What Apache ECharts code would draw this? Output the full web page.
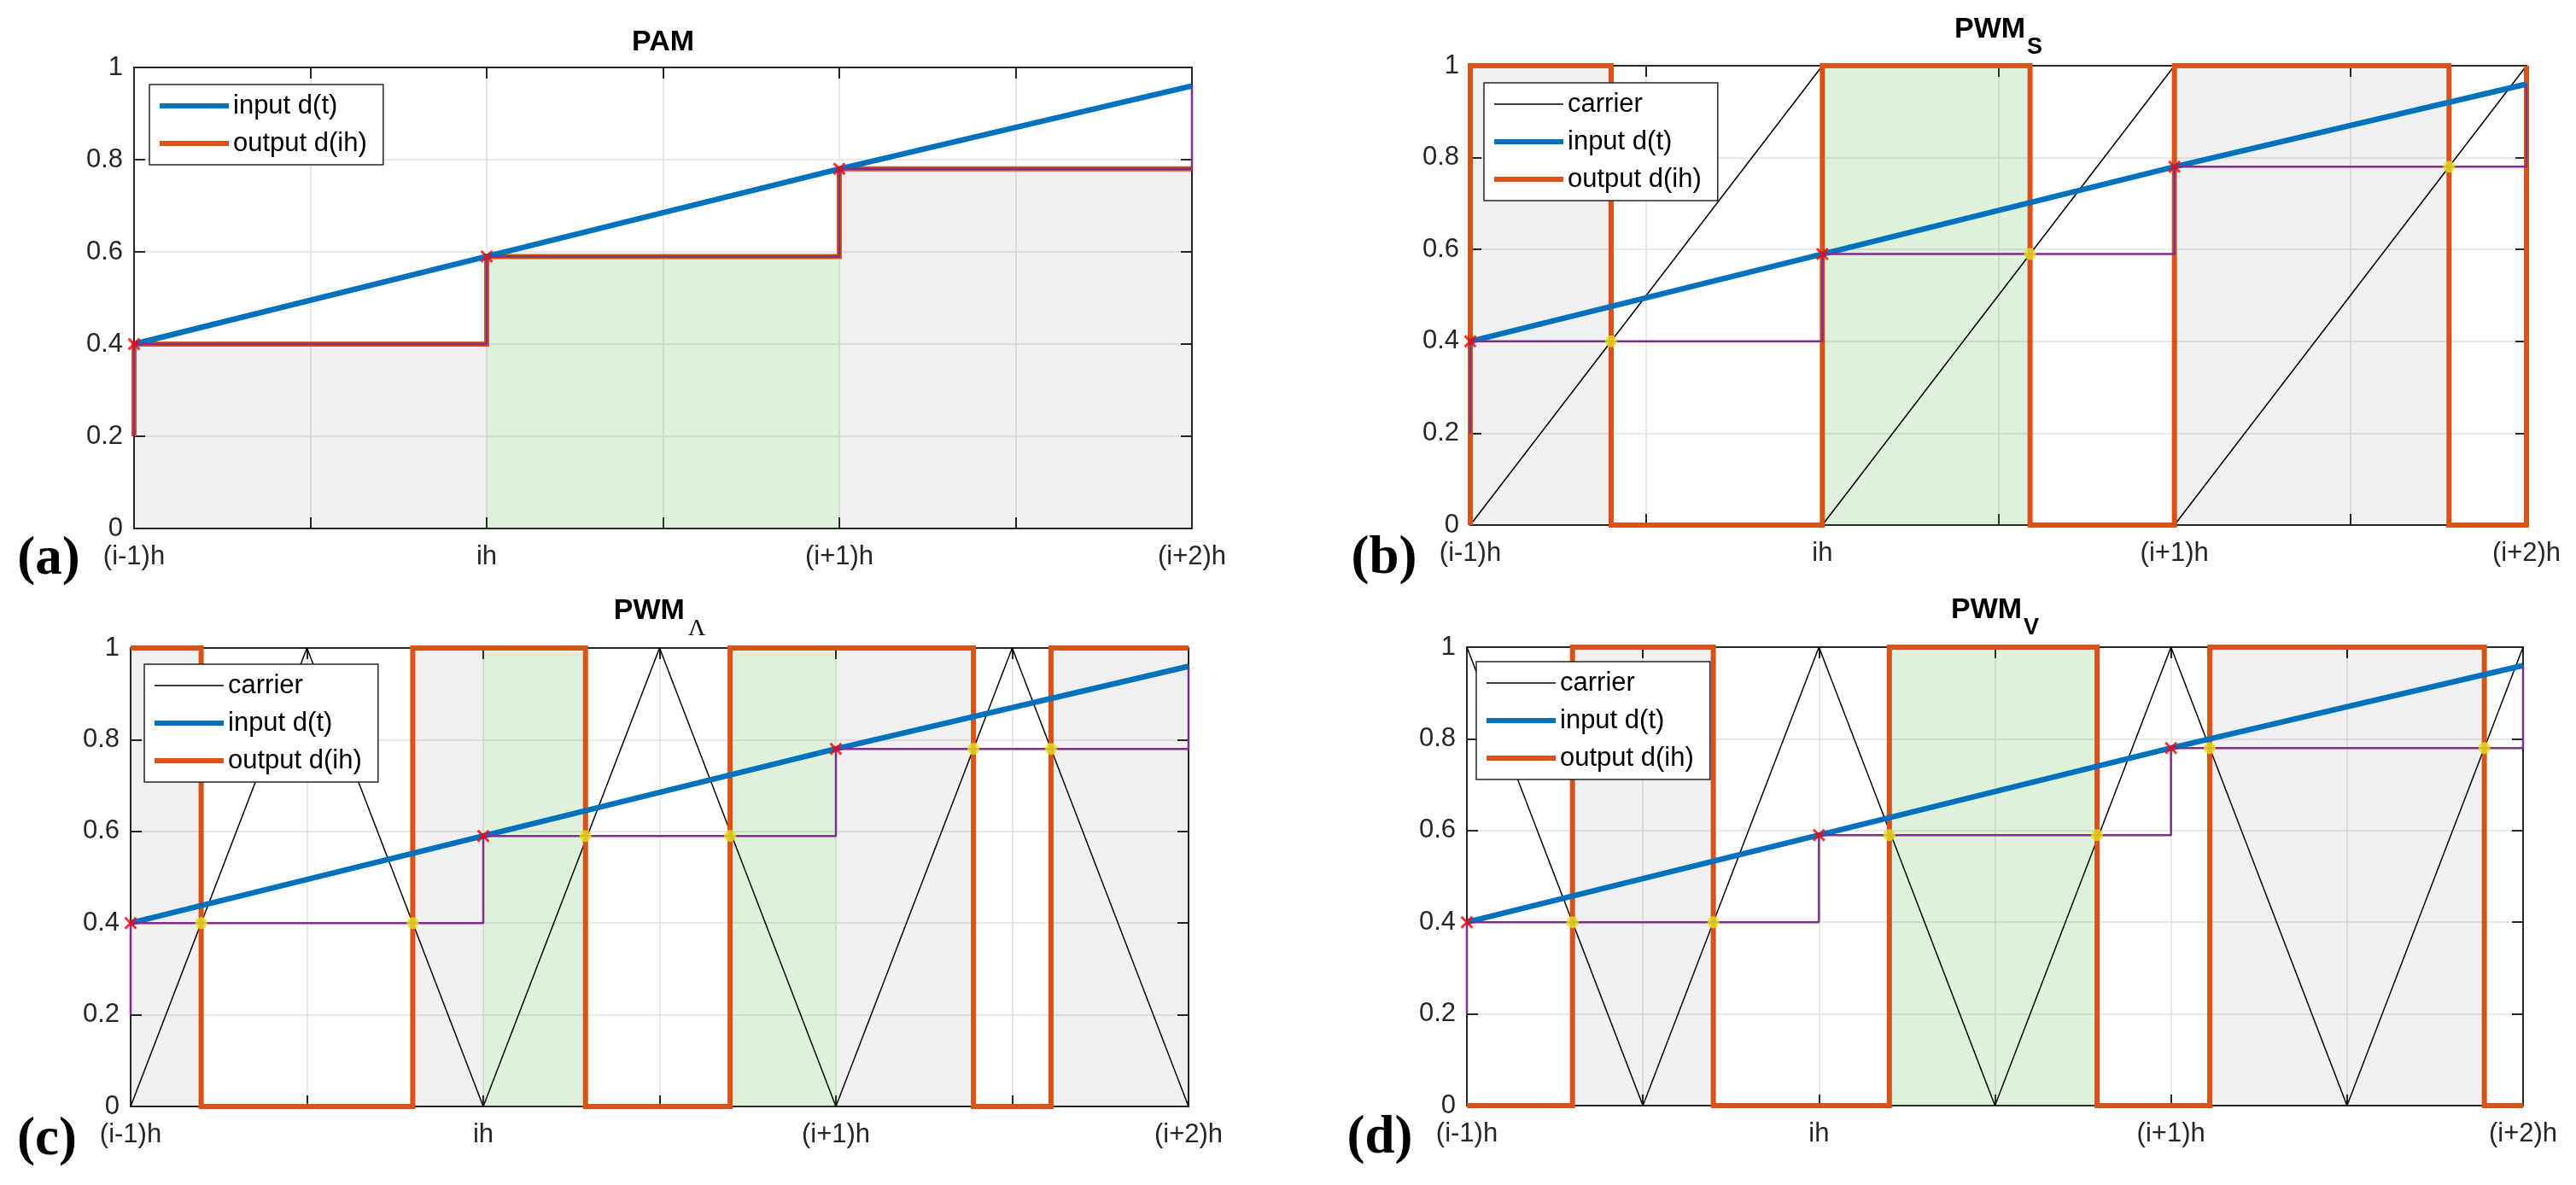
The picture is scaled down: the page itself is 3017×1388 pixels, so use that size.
<!DOCTYPE html>
<html><head><meta charset="utf-8">
<script src="https://cdn.jsdelivr.net/npm/echarts@6/dist/echarts.min.js"></script>
<style>html,body{margin:0;padding:0;background:#fff}#c{width:3017px;height:1388px}</style>
</head><body><div id="c"></div>
<script>
// ---------------- data ----------------
const xTickLabels = ['(i-1)h', 'ih', '(i+1)h', '(i+2)h'];
const panelTitles = ['PAM', 'PWM', 'PWM', 'PWM'];
const panelSubs = ['', 'S', 'Λ', 'V'];
const panelLetters = ['(a)', '(b)', '(c)', '(d)'];
const legendNames = ['carrier', 'input d(t)', 'output d(ih)'];

// input signal d(t), its samples d(ih) and the held sample value
const inputD = [[0, 0.4], [1, 0.59], [2, 0.78], [3, 0.96]];
const samplesD = [[0, 0.4], [1, 0.59], [2, 0.78]];
const heldD = [[0, 0.2], [0, 0.4], [1, 0.4], [1, 0.59], [2, 0.59], [2, 0.78], [3, 0.78], [3, 0.96]];

// (a) PAM
const outputPAM = [[0, 0.2], [0, 0.4], [1, 0.4], [1, 0.59], [2, 0.59], [2, 0.78], [3, 0.78]];
const grayPAM = [[0, 1, 0.4], [2, 3, 0.78]];
const greenPAM = [[1, 2, 0.59]];

// (b) PWM sawtooth
const carrierS = [[0, 0], [1, 1], [1, 0], [2, 1], [2, 0], [3, 1]];
const outputS = [[0, 0], [0, 1], [0.4, 1], [0.4, 0], [1, 0], [1, 1], [1.59, 1], [1.59, 0], [2, 0], [2, 1], [2.78, 1], [2.78, 0], [3, 0], [3, 1]];
const crossS = [[0.4, 0.4], [1.59, 0.59], [2.78, 0.78]];
const grayS = [[0, 0.4, 1], [2, 2.78, 1]];
const greenS = [[1, 1.59, 1]];

// (c) PWM Lambda (triangle)
const carrierA = [[0, 0], [0.5, 1], [1, 0], [1.5, 1], [2, 0], [2.5, 1], [3, 0]];
const outputA = [[0, 1], [0.2, 1], [0.2, 0], [0.8, 0], [0.8, 1], [1.29, 1], [1.29, 0], [1.7, 0], [1.7, 1], [2.39, 1], [2.39, 0], [2.61, 0], [2.61, 1], [3, 1]];
const crossA = [[0.2, 0.4], [0.8, 0.4], [1.29, 0.59], [1.7, 0.59], [2.39, 0.78], [2.61, 0.78]];
const grayA = [[0, 0.2, 1], [0.8, 1, 1], [2, 2.39, 1], [2.61, 3, 1]];
const greenA = [[1, 1.29, 1], [1.7, 2, 1]];

// (d) PWM V (inverted triangle)
const carrierV = [[0, 1], [0.5, 0], [1, 1], [1.5, 0], [2, 1], [2.5, 0], [3, 1]];
const outputV = [[0, 0], [0.3, 0], [0.3, 1], [0.7, 1], [0.7, 0], [1.2, 0], [1.2, 1], [1.79, 1], [1.79, 0], [2.11, 0], [2.11, 1], [2.89, 1], [2.89, 0], [3, 0]];
const crossV = [[0.3, 0.4], [0.7, 0.4], [1.2, 0.59], [1.79, 0.59], [2.11, 0.78], [2.89, 0.78]];
const grayV = [[0.3, 0.7, 1], [2.11, 2.89, 1]];
const greenV = [[1.2, 1.79, 1]];

// ---------------- layout / style ----------------
const FONT = 'Liberation Sans';
const AX = '#262626';
const C_CARRIER = '#000000', C_IN = '#0072BD', C_OUT = '#D95319', C_HOLD = '#7E2F8E';
const C_GRAY = 'rgba(0,0,0,0.059)', C_GREEN = 'rgba(46,170,30,0.16)';
const gridRects = [
  {left: 157, top: 79, width: 1239, height: 540},
  {left: 1722, top: 77, width: 1237, height: 538},
  {left: 153, top: 759, width: 1239, height: 537},
  {left: 1718, top: 758, width: 1237, height: 537}
];
const legendPos = [[175, 99], [1738, 97], [169, 778], [1729, 775]];
const titleTop = [33, 18, 699, 698];
const letterPos = [[57, 656], [1621, 655], [55, 1336], [1616, 1334]];

const panels = [
  {carrier: null, output: outputPAM, cross: null, gray: grayPAM, green: greenPAM},
  {carrier: carrierS, output: outputS, cross: crossS, gray: grayS, green: greenS},
  {carrier: carrierA, output: outputA, cross: crossA, gray: grayA, green: greenA},
  {carrier: carrierV, output: outputV, cross: crossV, gray: grayV, green: greenV}
];

const xMarkPath = 'path://M2,0 L7,5 L12,0 L14,2 L9,7 L14,12 L12,14 L7,9 L2,14 L0,12 L5,7 L0,2 Z';

const grids = [], xAxes = [], yAxes = [], series = [], legends = [], titles = [], graphics = [];

panels.forEach((p, i) => {
  const g = gridRects[i];
  grids.push({left: g.left, top: g.top, width: g.width, height: g.height, show: false});
  const axLine = {show: true, onZero: false, lineStyle: {color: AX, width: 2}};
  const axTick = {show: true, inside: true, length: 13, lineStyle: {color: AX, width: 2}};
  xAxes.push({
    type: 'value', gridIndex: i, min: 0, max: 3, interval: 0.5, position: 'bottom',
    axisLine: axLine, axisTick: axTick,
    axisLabel: {
      show: true, margin: 18, color: AX, fontFamily: FONT, fontSize: 31,
      formatter: v => { const k = Math.round(v * 2); return k % 2 === 0 ? xTickLabels[k / 2] : ''; }
    },
    splitLine: {show: true, lineStyle: {color: '#e2e2e2', width: 1.5}}
  });
  xAxes.push({
    type: 'value', gridIndex: i, min: 0, max: 3, interval: 0.5, position: 'top',
    axisLine: axLine, axisTick: axTick, axisLabel: {show: false}, splitLine: {show: false}
  });
  yAxes.push({
    type: 'value', gridIndex: i, min: 0, max: 1, interval: 0.2, position: 'left',
    axisLine: axLine, axisTick: axTick,
    axisLabel: {show: true, margin: 13, color: AX, fontFamily: FONT, fontSize: 31},
    splitLine: {show: true, lineStyle: {color: '#e2e2e2', width: 1.5}}
  });
  yAxes.push({
    type: 'value', gridIndex: i, min: 0, max: 1, interval: 0.2, position: 'right',
    axisLine: axLine, axisTick: axTick, axisLabel: {show: false}, splitLine: {show: false}
  });
  const xi = 2 * i, yi = 2 * i;
  const base = {xAxisIndex: xi, yAxisIndex: yi, animation: false, silent: true, clip: false};

  const areas = [];
  p.gray.forEach(r => areas.push([{coord: [r[0], 0], itemStyle: {color: C_GRAY}}, {coord: [r[1], r[2]]}]));
  p.green.forEach(r => areas.push([{coord: [r[0], 0], itemStyle: {color: C_GREEN}}, {coord: [r[1], r[2]]}]));

  if (p.carrier) {
    series.push(Object.assign({}, base, {
      type: 'line', name: 'carrier', data: p.carrier, symbol: 'none', color: C_CARRIER,
      lineStyle: {color: C_CARRIER, width: 1.5}, z: 2
    }));
  }
  series.push(Object.assign({}, base, {
    type: 'line', name: 'output d(ih)', data: p.output, symbol: 'none', color: C_OUT,
    lineStyle: {color: C_OUT, width: 6, join: 'miter'}, z: 3
  }));
  series.push(Object.assign({}, base, {
    type: 'line', name: 'input d(t)', data: inputD, symbol: 'none', color: C_IN,
    lineStyle: {color: C_IN, width: 6.5}, z: 4,
    markArea: {silent: true, label: {show: false}, data: areas}
  }));
  series.push(Object.assign({}, base, {
    type: 'line', name: 'held sample', data: heldD, symbol: 'none', color: C_HOLD,
    lineStyle: {color: C_HOLD, width: 2.5}, z: 5
  }));
  series.push(Object.assign({}, base, {
    type: 'scatter', name: 'samples', data: samplesD, symbol: xMarkPath, symbolSize: 15,
    itemStyle: {color: '#ff0000'}, z: 6
  }));
  if (p.cross) {
    series.push(Object.assign({}, base, {
      type: 'scatter', name: 'crossings', data: p.cross, symbol: 'circle', symbolSize: 14,
      itemStyle: {color: '#e6df1c'}, z: 7
    }));
  }

  const names = p.carrier ? legendNames : legendNames.slice(1);
  const widths = {'carrier': 1.5, 'input d(t)': 6, 'output d(ih)': 6};
  legends.push({
    orient: 'vertical', left: legendPos[i][0], top: legendPos[i][1],
    padding: [9.5, 19, 9.5, 9], itemWidth: 81, itemHeight: 30, itemGap: 13,
    backgroundColor: '#ffffff', borderColor: AX, borderWidth: 1.5, borderRadius: 0,
    selectedMode: false, z: 10,
    textStyle: {fontFamily: FONT, fontSize: 31, color: '#000', lineHeight: 30},
    itemStyle: {opacity: 0},
    data: names.map(n => ({name: n, lineStyle: {width: widths[n], opacity: 1}}))
  });

  const t = panelSubs[i] ? '{m|' + panelTitles[i] + '}{' + (panelSubs[i] === 'Λ' ? 'l' : 's') + '|' + panelSubs[i] + '}' : '{m|' + panelTitles[i] + '}';
  titles.push({
    text: t, left: g.left + g.width / 2, top: titleTop[i], textAlign: 'center', textVerticalAlign: 'top', padding: 0,
    textStyle: {
      rich: {
        m: {fontFamily: FONT, fontWeight: 'bold', fontSize: 34, lineHeight: 40, color: '#000', verticalAlign: 'top'},
        s: {fontFamily: FONT, fontWeight: 'bold', fontSize: 27, lineHeight: 27, color: '#000', verticalAlign: 'top', padding: [24, 0, 0, 2]},
        l: {fontFamily: 'Liberation Serif', fontWeight: 'normal', fontSize: 28, lineHeight: 27, color: '#000', verticalAlign: 'top', padding: [24, 0, 0, 4]}
      }
    }
  });

  graphics.push({
    type: 'text', x: letterPos[i][0], y: letterPos[i][1], z: 20,
    style: {text: panelLetters[i], font: 'bold 63px "Liberation Serif"', fill: '#000',
      align: 'center', verticalAlign: 'middle', textAlign: 'center', textVerticalAlign: 'middle'}
  });
});

const chart = echarts.init(document.getElementById('c'), null, {renderer: 'canvas'});
chart.setOption({
  backgroundColor: '#ffffff',
  animation: false,
  title: titles,
  legend: legends,
  grid: grids,
  xAxis: xAxes,
  yAxis: yAxes,
  series: series,
  graphic: graphics
});
</script>
</body></html>
